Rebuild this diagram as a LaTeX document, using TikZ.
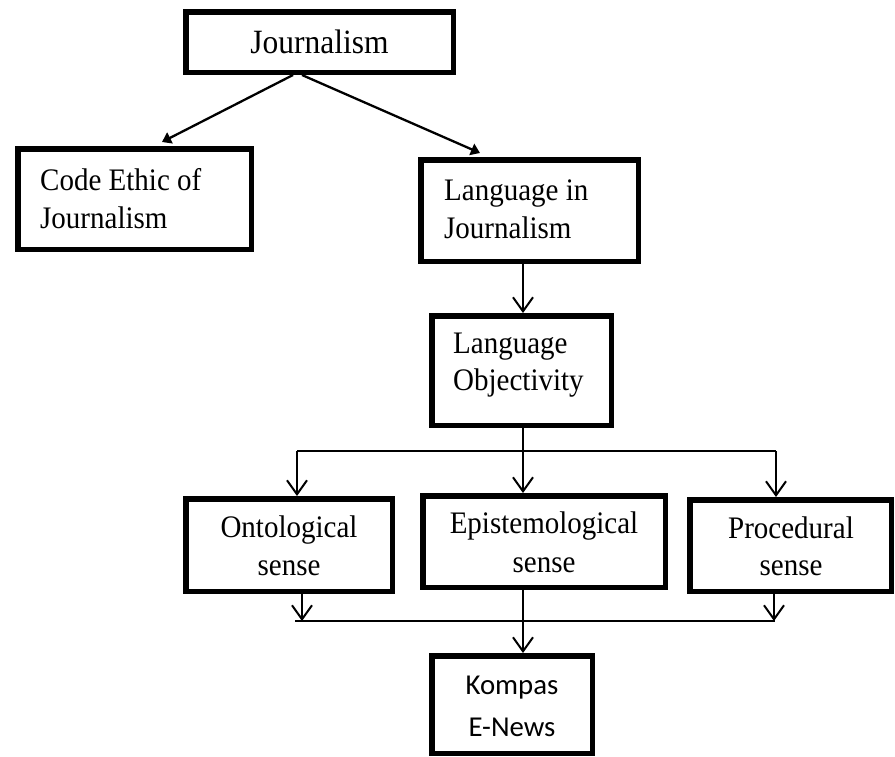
\documentclass[tikz,border=0pt]{standalone}
\usepackage{fontspec}
\setmainfont{Liberation Serif}
\newfontfamily\kfont{Carlito}
\usetikzlibrary{arrows.meta}
\newcommand{\tall}[1]{\scalebox{1}[1.08]{#1}}
\begin{document}
\begin{tikzpicture}[x=1pt,y=-1pt,
  box/.style={draw, line width=5.5pt, inner sep=0pt},
  txt/.style={inner sep=0pt, font=\fontsize{29}{38}\selectfont},
  ttl/.style={inner sep=0pt, font=\fontsize{31.5}{38}\selectfont},
  ktxt/.style={inner sep=0pt, font=\kfont\fontsize{28.8}{38}\selectfont},
  solidarrow/.style={line width=2.3pt, -{Triangle[length=9pt,width=12pt]}},
  openarrow/.style={line width=2pt, -{Straight Barb[length=14pt,width=20pt,line width=2pt]}},
  thinline/.style={line width=1.3pt}]
\useasboundingbox (0,0) rectangle (895,756);

% boxes
\node[box, minimum width=267.5pt, minimum height=60.5pt] (J) at (319.5,42) {};
\node[box, minimum width=233.5pt, minimum height=100.5pt] (CE) at (134.5,199) {};
\node[box, minimum width=217.5pt, minimum height=101.5pt] (LJ) at (529.5,210.5) {};
\node[box, minimum width=179.5pt, minimum height=109.5pt] (LO) at (521.5,370.5) {};
\node[box, minimum width=206.5pt, minimum height=92.5pt] (ON) at (289,545) {};
\node[box, minimum width=242.5pt, minimum height=91.5pt] (EP) at (544,541.5) {};
\node[box, minimum width=201.5pt, minimum height=91.5pt] (PR) at (790.5,545.5) {};
\node[box, minimum width=160.5pt, minimum height=97.5pt] (KO) at (512,704.5) {};

% texts
\node[ttl, anchor=base] (tJ) at (319.5,53) {\tall{Journalism}};
\node[txt, anchor=base west] (tCE1) at (40,190) {\tall{Code Ethic of}};
\node[txt, anchor=base west] (tCE2) at (40,228) {\tall{Journalism}};
\node[txt, anchor=base west] (tLJ1) at (444,200) {\tall{Language in}};
\node[txt, anchor=base west] (tLJ2) at (444,238) {\tall{Journalism}};
\node[txt, anchor=base west] (tLO1) at (453,353) {\tall{Language}};
\node[txt, anchor=base west] (tLO2) at (453,390) {\tall{Objectivity}};
\node[txt, anchor=base] (tON1) at (289,537) {\tall{Ontological}};
\node[txt, anchor=base] (tON2) at (289,575) {\tall{sense}};
\node[txt, anchor=base] (tEP1) at (544,533) {\tall{Epistemological}};
\node[txt, anchor=base] (tEP2) at (544,572) {\tall{sense}};
\node[txt, anchor=base] (tPR1) at (791,538) {\tall{Procedural}};
\node[txt, anchor=base] (tPR2) at (791,575) {\tall{sense}};
\node[ktxt, anchor=base] (tKO1) at (512,694) {Kompas};
\node[ktxt, anchor=base] (tKO2) at (512,736) {E-News};

% connectors from Journalism
\draw[solidarrow] ([xshift=-26.5pt]J.south) -- ([xshift=27.5pt,yshift=4pt]CE.north);
\draw[solidarrow] ([xshift=-17.5pt]J.south) -- ([xshift=-49.5pt,yshift=4pt]LJ.north);

% Language in Journalism -> Language Objectivity
\draw[openarrow] ([xshift=-6.5pt]LJ.south) -- ([xshift=-6.5pt]LJ.south |- LO.north);

% Language Objectivity -> three senses
\coordinate (b1) at (297,451);
\coordinate (b2) at (776,451);
\draw[thinline] (b1) -- (b2);
\draw[openarrow] ([xshift=1.5pt]LO.south) -- ([xshift=1.5pt]LO.south |- EP.north);
\draw[openarrow] (b1) -- (b1 |- ON.north);
\draw[openarrow] (b2) -- (b2 |- PR.north);

% three senses -> Kompas
\coordinate (c1) at (295,621);
\coordinate (c2) at (775,621);
\draw[thinline] (c1) -- (c2);
\draw[openarrow] ([xshift=13pt]ON.south) -- ([xshift=13pt]ON.south |- c1);
\draw[openarrow] ([xshift=-16.5pt]PR.south) -- ([xshift=-16.5pt]PR.south |- c2);
\draw[openarrow] ([xshift=-21pt]EP.south) -- ([xshift=-21pt]EP.south |- KO.north);
\end{tikzpicture}
\end{document}
